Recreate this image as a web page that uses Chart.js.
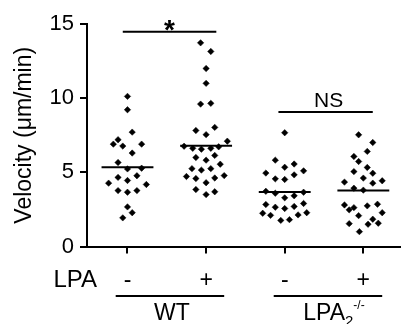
<!DOCTYPE html>
<html>
<head>
<meta charset="utf-8">
<script src="https://cdn.jsdelivr.net/npm/chart.js@4/dist/chart.umd.min.js"></script>
<style>
body{margin:0;background:#fff;}
</style>
</head>
<body>
<canvas id="velChart" width="404" height="324"></canvas>
<script>

/* DATA */

const groups=[1,2,3,4];
const tickLabels=["-","+","-","+"];
const rowLabel="LPA";
const yTitle="Velocity (\u03bcm/min)";

// WT, no LPA
const wtMinusVel=[10.12,9.22,7.71,7.2,6.9,6.77,6.9,6.3,5.66,5.23,5.28,4.27,4.66,4.45,4.77,4.18,3.77,3.66,3.77,2.67,2.28,1.93];
const wtMinusOff=[0,0,0.06,-0.12,-0.18,-0.06,0.18,0.06,-0.12,0,0.18,-0.24,-0.12,0,0.12,0.24,-0.12,0,0.12,0,0.06,-0.06];

// WT, + LPA
const wtPlusVel=[13.73,13.15,12.0,11.0,9.6,9.65,7.82,8.03,7.54,7.1,6.76,6.62,6.56,6.62,6.72,6.0,5.82,6.14,5.25,5.15,5.25,5.55,4.72,4.58,4.3,4.62,4.78,3.84,3.5,3.69];
const wtPlusOff=[-0.07,0.06,0,0,-0.07,0.06,-0.13,0.11,0,0.27,-0.28,-0.17,-0.06,0.06,0.16,-0.13,0,0.11,-0.18,-0.06,0.06,0.18,-0.25,-0.13,0,0.11,0.23,-0.13,0,0.11];

// LPA2 -/-, no LPA
const koMinusVel=[7.67,5.82,5.34,5.56,4.95,4.56,4.52,4.83,5.1,3.72,3.59,3.28,3.42,3.66,2.83,2.65,2.56,2.7,2.9,2.24,2.1,1.76,1.81,2.13,2.28];
const koMinusOff=[0,-0.12,0,0.12,-0.24,-0.12,0,0.12,0.24,-0.24,-0.12,0,0.12,0.24,-0.24,-0.12,0,0.12,0.24,-0.28,-0.18,-0.05,0.06,0.17,0.28];

// LPA2 -/-, + LPA
const koPlusVel=[7.53,7.01,6.41,6.07,5.73,5.33,5.05,4.94,4.61,4.34,4.27,4.43,3.93,3.8,2.8,2.47,2.62,2.74,2.85,2.08,2.28,1.84,1.5,1.57,1.54,1.0];
const koPlusOff=[-0.06,0.12,0.05,-0.12,-0.06,0.05,-0.12,0.12,0,-0.24,0.12,0.24,-0.12,0,-0.24,-0.18,-0.12,0.05,0.18,-0.06,0.24,0.12,0.06,0.19,-0.18,-0.05];

const means=[5.35,6.8,3.67,3.77];
const meanHalf=0.33;

// significance brackets
const sigFrom=[0.94,2.92];
const sigTo=[2.13,4.12];
const sigY=[14.47,9.07];
const sigText=["*","NS"];

// genotype underlines
const genoFrom=[0.85,2.86];
const genoTo=[2.23,4.24];


const family="'Liberation Sans', Arial, Helvetica, sans-serif";
Chart.defaults.font.family=family;
Chart.defaults.color="#000";

const toPts=(g,vals,offs)=>vals.map((v,i)=>({x:g+offs[i],y:v}));

const dotSet=(pts)=>({
data:pts,
pointStyle:"rectRot",
pointRadius:3.2,
pointBorderWidth:0.5,
backgroundColor:"#000",
borderColor:"#000",
showLine:false
});

const segSet=(x1,x2,yv)=>({
data:[{x:x1,y:yv},{x:x2,y:yv}],
showLine:true,
pointRadius:0,
borderColor:"#000",
borderWidth:2
});

const datasets=[
dotSet(toPts(groups[0],wtMinusVel,wtMinusOff)),
dotSet(toPts(groups[1],wtPlusVel,wtPlusOff)),
dotSet(toPts(groups[2],koMinusVel,koMinusOff)),
dotSet(toPts(groups[3],koPlusVel,koPlusOff))
];

groups.forEach((g,i)=>datasets.push(segSet(g-meanHalf,g+meanHalf,means[i])));
sigY.forEach((v,i)=>datasets.push(segSet(sigFrom[i],sigTo[i],v)));


/* EXTRA TEXT */

const extras={
id:"extras",
afterDraw(chart){

const ctx=chart.ctx;
const xs=chart.scales.x;
const ys=chart.scales.y;

ctx.save();
ctx.fillStyle="#000";
ctx.strokeStyle="#000";
ctx.textAlign="center";
ctx.textBaseline="alphabetic";

// star / NS
sigText.forEach((t,i)=>{
const cx=xs.getPixelForValue((sigFrom[i]+sigTo[i])/2);
const py=ys.getPixelForValue(sigY[i]);
if(t==="*"){
ctx.font="bold 28px "+family;
ctx.fillText(t,cx,py+7);
}else{
ctx.font="21px "+family;
ctx.fillText(t,cx+3,py-5);
}
});

// row label
ctx.font="24px "+family;
ctx.textAlign="right";
ctx.textBaseline="middle";
ctx.fillText(rowLabel,xs.left+10,xs.top+34);

// genotype lines
const lineY=xs.top+49.5;
ctx.lineWidth=2;
genoFrom.forEach((f,i)=>{
ctx.beginPath();
ctx.moveTo(xs.getPixelForValue(f),lineY);
ctx.lineTo(xs.getPixelForValue(genoTo[i]),lineY);
ctx.stroke();
});

// genotype names
const base=xs.top+73.5;
ctx.textBaseline="alphabetic";
ctx.textAlign="center";
ctx.font="23px "+family;
ctx.fillText("WT",xs.getPixelForValue((genoFrom[0]+genoTo[0])/2)+2,base);

// LPA2 -/-
ctx.textAlign="left";
ctx.font="23px "+family;
const wMain=ctx.measureText("LPA").width;
ctx.font="15px "+family;
const wSub=ctx.measureText("2").width;
ctx.font="12px "+family;
const wSup=ctx.measureText("-/-").width;
let sx=xs.getPixelForValue((genoFrom[1]+genoTo[1])/2)-(wMain+wSub+wSup)/2+6;
ctx.font="23px "+family;
ctx.fillText("LPA",sx,base);
sx+=wMain;
ctx.font="15px "+family;
ctx.fillText("2",sx,base+6);
sx+=wSub;
ctx.font="12px "+family;
ctx.fillText("-/-",sx,base-11);

ctx.restore();

}
};


/* CHART */

new Chart(document.getElementById("velChart"),{

type:"scatter",

data:{datasets:datasets},

options:{
responsive:false,
animation:false,
devicePixelRatio:1,
layout:{padding:{left:0,right:0,top:24,bottom:0}},
plugins:{legend:{display:false},tooltip:{enabled:false}},
scales:{
x:{
type:"linear",
min:0.485,
max:4.46,
afterBuildTicks:(s)=>{s.ticks=groups.map(g=>({value:g}));},
afterFit:(s)=>{s.height=77.5;},
ticks:{
callback:(v)=>tickLabels[groups.indexOf(v)],
font:{size:23},
padding:13,
maxRotation:0,
autoSkip:false
},
grid:{drawOnChartArea:false,tickLength:7,lineWidth:2,color:"#000"},
border:{display:true,color:"#000",width:2}
},
y:{
min:0,
max:15,
afterFit:(s)=>{s.width=87;},
ticks:{stepSize:5,font:{size:22},padding:6},
grid:{drawOnChartArea:false,tickLength:7,lineWidth:2,color:"#000"},
border:{display:true,color:"#000",width:2},
title:{display:true,text:yTitle,font:{size:23},padding:{top:11,bottom:0}}
}
}
},

plugins:[extras]

});

</script>
</body>
</html>
